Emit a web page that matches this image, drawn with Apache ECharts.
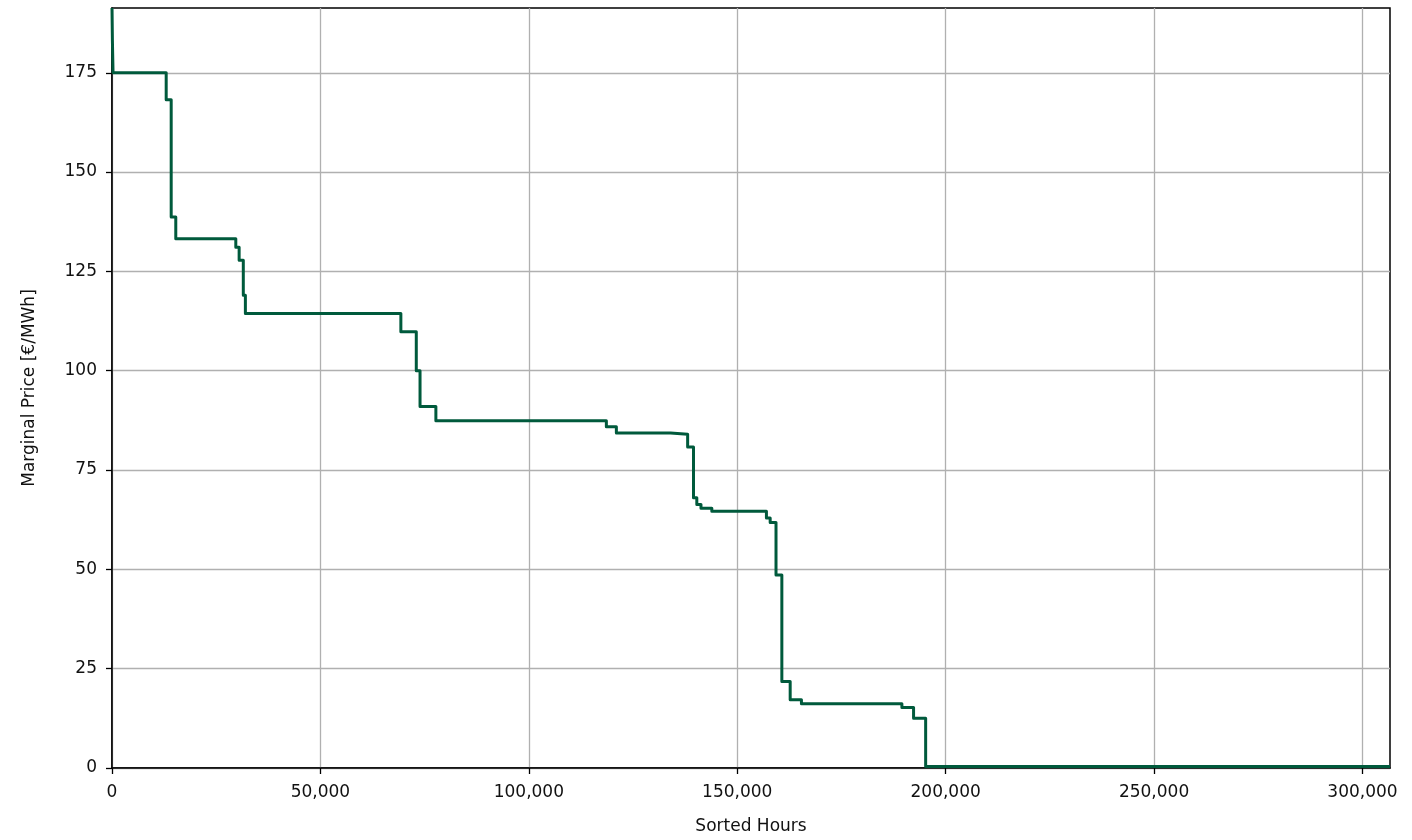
<!DOCTYPE html>
<html>
<head>
<meta charset="utf-8">
<script src="https://cdn.jsdelivr.net/npm/echarts@6/dist/echarts.min.js"></script>
<style>
  html, body { margin: 0; padding: 0; background: #fff; }
  #chart { width: 1412px; height: 840px; }
</style>
</head>
<body>
<div id="chart"></div>
<script>
// Price duration curve: each entry starts a new price level at the given sorted hour
const startHours = [0, 100, 250, 13000, 14200, 15300, 29700, 30500, 31500, 32000,
  69300, 73000, 73900, 77700, 118600, 121000, 134000, 138100, 139500, 140300,
  141300, 143900, 157000, 157900, 159300, 160700, 162700, 165400, 189500, 192300,
  195200, 306600];
const priceLevels = [191.3, 183, 175, 168.2, 138.7, 133.2, 131.1, 127.8, 119.0, 114.4,
  109.8, 100.0, 91.0, 87.4, 85.9, 84.3, 84.0, 80.8, 68.0, 66.3,
  65.4, 64.6, 62.9, 61.8, 48.6, 21.8, 17.2, 16.2, 15.2, 12.5,
  0.4, 0.4];

const xTicks = [0, 50000, 100000, 150000, 200000, 250000, 300000];
const yTicks = [0, 25, 50, 75, 100, 125, 150, 175];

const X_MAX = 306600;
const Y_MAX = 191.3;

const font = 'DejaVu Sans';
const textColor = '#111';
const chart = echarts.init(document.getElementById('chart'), null, { renderer: 'canvas' });

chart.setOption({
  animation: false,
  backgroundColor: '#ffffff',
  grid: {
    left: 112, right: 22, top: 8, bottom: 71,
    show: true, borderColor: '#000', borderWidth: 1.5, backgroundColor: 'transparent'
  },
  xAxis: {
    type: 'value', min: 0, max: X_MAX,
    name: 'Sorted Hours', nameLocation: 'middle', nameGap: 50,
    nameTextStyle: { fontFamily: font, fontSize: 17, color: textColor },
    axisLine: { show: true, onZero: false, lineStyle: { color: '#000', width: 1.5 } },
    axisTick: { show: true, length: 6, customValues: xTicks, lineStyle: { color: '#000', width: 1.3 } },
    axisLabel: {
      customValues: xTicks, margin: 16,
      fontFamily: font, fontSize: 17, color: textColor,
      formatter: v => v.toLocaleString('en-US')
    },
    splitLine: { show: true, lineStyle: { color: '#b0b0b0', width: 1.3 } }
  },
  yAxis: {
    type: 'value', min: 0, max: Y_MAX,
    name: 'Marginal Price [€/MWh]', nameLocation: 'middle', nameGap: 74, nameRotate: 90,
    nameTextStyle: { fontFamily: font, fontSize: 17, color: textColor },
    axisLine: { show: true, onZero: false, lineStyle: { color: '#000', width: 1.5 } },
    axisTick: { show: true, length: 6, customValues: yTicks, lineStyle: { color: '#000', width: 1.3 } },
    axisLabel: {
      customValues: yTicks, margin: 15,
      fontFamily: font, fontSize: 17, color: textColor
    },
    splitLine: { show: true, lineStyle: { color: '#b0b0b0', width: 1.3 } }
  },
  series: [{
    type: 'line',
    step: 'end',
    showSymbol: false,
    clip: true,
    data: startHours.map((h, i) => [h, priceLevels[i]]),
    lineStyle: { color: '#005a3c', width: 3, join: 'round' },
    z: 3
  }]
});
</script>
</body>
</html>
